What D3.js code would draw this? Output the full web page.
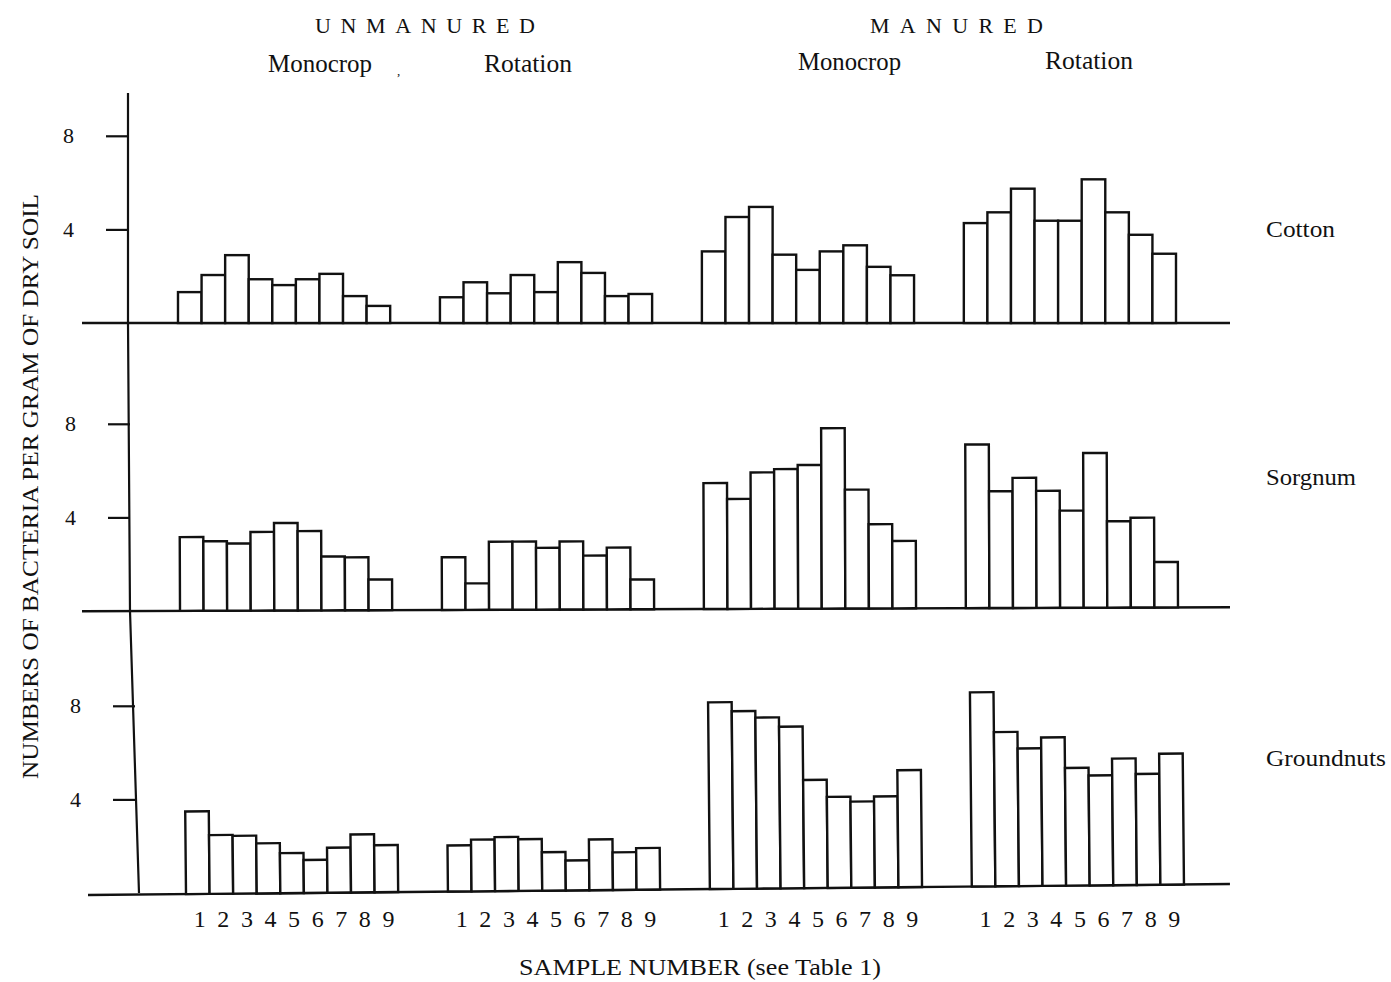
<!DOCTYPE html>
<html lang="en">
<head>
<meta charset="UTF-8">
<title>Bacteria per gram of dry soil</title>
<style>
  body { margin: 0; background: #fff; }
  svg { display: block; }
  text { font-family: "Liberation Serif", "DejaVu Serif", serif; fill: #111; }
  .bar { fill: #fff; stroke: #111; stroke-width: 2.4; }
  .base { stroke: #111; stroke-width: 2.4; }
  .axisline { fill: none; stroke: #111; stroke-width: 2.2; }
  .tick line { stroke: #111; stroke-width: 2.2; }
</style>
</head>
<body>
<svg></svg>
<script src="https://d3js.org/d3.v7.min.js"></script>
<script>
// values, one array of 9 samples per treatment group
const groups = ["Unmanured Monocrop", "Unmanured Rotation", "Manured Monocrop", "Manured Rotation"];
const samples = [1, 2, 3, 4, 5, 6, 7, 8, 9];
const crops = ["Cotton", "Sorgnum", "Groundnuts"];
const yTicks = [4, 8];

const cotton = [
  [1.32, 2.05, 2.9, 1.87, 1.62, 1.87, 2.1, 1.15, 0.73],
  [1.1, 1.74, 1.27, 2.05, 1.32, 2.6, 2.14, 1.15, 1.24],
  [3.06, 4.53, 4.96, 2.92, 2.27, 3.06, 3.32, 2.4, 2.04],
  [4.27, 4.73, 5.74, 4.37, 4.37, 6.14, 4.73, 3.77, 2.96]
];
const sorgnum = [
  [3.15, 2.97, 2.87, 3.36, 3.74, 3.39, 2.3, 2.26, 1.31],
  [2.25, 1.13, 2.91, 2.91, 2.64, 2.91, 2.3, 2.64, 1.27],
  [5.38, 4.7, 5.83, 5.97, 6.14, 7.71, 5.08, 3.6, 2.88],
  [6.99, 4.99, 5.56, 5.0, 4.15, 6.61, 3.69, 3.84, 1.94]
];
const groundnuts = [
  [3.53, 2.51, 2.47, 2.14, 1.71, 1.41, 1.92, 2.48, 2.01],
  [1.97, 2.21, 2.31, 2.21, 1.64, 1.28, 2.17, 1.61, 1.78],
  [7.98, 7.59, 7.31, 6.91, 4.62, 3.89, 3.68, 3.89, 5.0],
  [8.3, 6.59, 5.88, 6.34, 5.03, 4.7, 5.41, 4.74, 5.6]
];

// layout
const W = 1391, H = 982;
const unit = 23.4; // px per count
const panels = [
  { values: cotton,     base: 323, dx: 0, axisX: 128, tilt: 0,     pivot: 140, labelY: 237, labelW: 69 },
  { values: sorgnum,    base: 611, dx: 2, axisX: 130, tilt: -0.2,  pivot: 140, labelY: 485, labelW: 90 },
  { values: groundnuts, base: 893, dx: 8, axisX: 135, tilt: -0.55, pivot: 300, labelY: 766, labelW: 120 }
];

const svg = d3.select("svg").attr("width", W).attr("height", H);

const xg = d3.scaleBand().domain(groups).range([178, 1176]).paddingInner(0.19);
const xs = d3.scaleBand().domain(samples).range([0, xg.bandwidth()]);

// vertical axis line (drawn by hand in the original, so it drifts a little)
svg.append("path")
  .attr("class", "axisline")
  .attr("d", d3.line()([[128, 93], [128, 323], [130, 611], [139, 893]]));

panels.forEach((p, k) => {
  const y = d3.scaleLinear().domain([0, 8]).range([p.base, p.base - 8 * unit]);

  const g = svg.append("g")
    .attr("transform", `rotate(${p.tilt},${p.pivot},${p.base})`);

  g.append("line")
    .attr("class", "base")
    .attr("x1", k === 2 ? 88 : 82).attr("x2", 1230)
    .attr("y1", y(0)).attr("y2", y(0));

  groups.forEach((grp, gi) => {
    g.append("g")
      .selectAll("rect")
      .data(p.values[gi])
      .join("rect")
      .attr("class", "bar")
      .attr("x", (d, i) => p.dx + xg(grp) + xs(samples[i]))
      .attr("width", xs.bandwidth())
      .attr("y", d => y(d))
      .attr("height", d => y(0) - y(d));
  });

  const ax = svg.append("g")
    .attr("transform", `translate(${p.axisX},0)`)
    .call(d3.axisLeft(y).tickValues(yTicks).tickSize(22).tickPadding(32).tickFormat(d3.format("d")));
  ax.select(".domain").remove();
  ax.attr("font-size", null).attr("font-family", null);
  ax.selectAll("text").style("font-size", "22px").attr("fill", "#111");

  svg.append("text")
    .attr("x", 1266).attr("y", p.labelY)
    .attr("textLength", p.labelW).attr("lengthAdjust", "spacingAndGlyphs")
    .style("font-size", "24px")
    .text(crops[k]);
});

// sample numbers under the bottom panel
groups.forEach(grp => {
  svg.append("g").selectAll("text")
    .data(samples)
    .join("text")
    .attr("x", d => panels[2].dx + 2 + xg(grp) + xs(d) + xs.bandwidth() / 2)
    .attr("y", 927)
    .attr("text-anchor", "middle")
    .style("font-size", "24px")
    .text(d => d);
});

// headings
const head = [
  { t: "UNMANURED", x: 315, y: 33, w: 220, s: 22, adj: "spacing" },
  { t: "MANURED", x: 870, y: 33, w: 173, s: 22, adj: "spacing" },
  { t: "Monocrop", x: 268, y: 72, w: 104, s: 25, adj: "spacingAndGlyphs" },
  { t: "Rotation", x: 484, y: 72, w: 88, s: 25, adj: "spacingAndGlyphs" },
  { t: "Monocrop", x: 798, y: 70, w: 103, s: 25, adj: "spacingAndGlyphs" },
  { t: "Rotation", x: 1045, y: 69, w: 88, s: 25, adj: "spacingAndGlyphs" },
  { t: "SAMPLE NUMBER (see Table 1)", x: 519, y: 975, w: 362, s: 23, adj: "spacingAndGlyphs" }
];
head.forEach(h => {
  svg.append("text")
    .attr("x", h.x).attr("y", h.y)
    .attr("textLength", h.w).attr("lengthAdjust", h.adj)
    .style("font-size", h.s + "px")
    .text(h.t);
});

svg.append("text")
  .attr("x", 397).attr("y", 75)
  .style("font-size", "13px")
  .text(",");

svg.append("text")
  .attr("transform", "translate(38,487) rotate(-90)")
  .attr("x", -292).attr("y", 0)
  .attr("textLength", 585).attr("lengthAdjust", "spacingAndGlyphs")
  .style("font-size", "23px")
  .text("NUMBERS OF BACTERIA PER GRAM OF DRY SOIL");
</script>
</body>
</html>
